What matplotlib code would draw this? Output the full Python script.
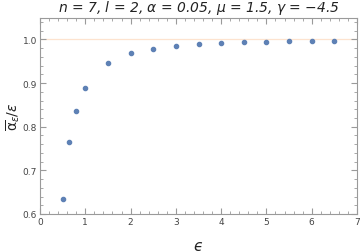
import numpy as np
import matplotlib.pyplot as plt
from matplotlib.ticker import MultipleLocator

eps = [0.5, 0.65, 0.8, 1.0, 1.5, 2.0, 2.5, 3.0, 3.5, 4.0, 4.5, 5.0, 5.5, 6.0, 6.5]
ratio = [0.634, 0.765, 0.836, 0.889, 0.946, 0.969, 0.979, 0.985, 0.989,
         0.9915, 0.993, 0.9945, 0.9953, 0.996, 0.997]

fig = plt.figure(figsize=(3.61, 2.53), dpi=100)
ax = fig.add_axes([40/361, 1 - 215/253, 317/361, 196/253])

ax.axhline(1.0, color='#fde3cf', lw=0.9, zorder=1)
ax.plot(eps, ratio, 'o', color='#5E81B5', markersize=3.0, zorder=3)

ax.set_xlim(0, 7)
ax.set_ylim(0.6, 1.049)
ax.xaxis.set_major_locator(MultipleLocator(1))
ax.xaxis.set_minor_locator(MultipleLocator(0.2))
ax.yaxis.set_major_locator(MultipleLocator(0.1))
ax.yaxis.set_minor_locator(MultipleLocator(0.02))
ax.yaxis.set_major_formatter(plt.FuncFormatter(lambda v, p: '%.1f' % v))

gray = '#9a9a9a'
for s in ax.spines.values():
    s.set_color(gray)
    s.set_linewidth(0.8)
ax.tick_params(which='both', direction='in', top=True, right=True, color=gray,
               labelsize=6.5, labelcolor='#444444', pad=2)
ax.tick_params(which='major', length=4, width=0.8)
ax.tick_params(which='minor', length=2, width=0.6)

ax.set_title(r'$n$ = 7, $l$ = 2, $\alpha$ = 0.05, $\mu$ = 1.5, $\gamma$ = −4.5',
             fontsize=10, color='#222222', pad=5, fontstyle='italic')
ax.set_xlabel('ϵ', fontsize=11, fontstyle='italic', color='#222222', labelpad=9)
ax.set_ylabel(r'$\overline{\mathrm{\alpha}}_\epsilon/\epsilon$', fontsize=10, color='#222222')
ax.yaxis.set_label_coords(-0.058, 0.5)

fig.savefig('out.png', dpi=100)
